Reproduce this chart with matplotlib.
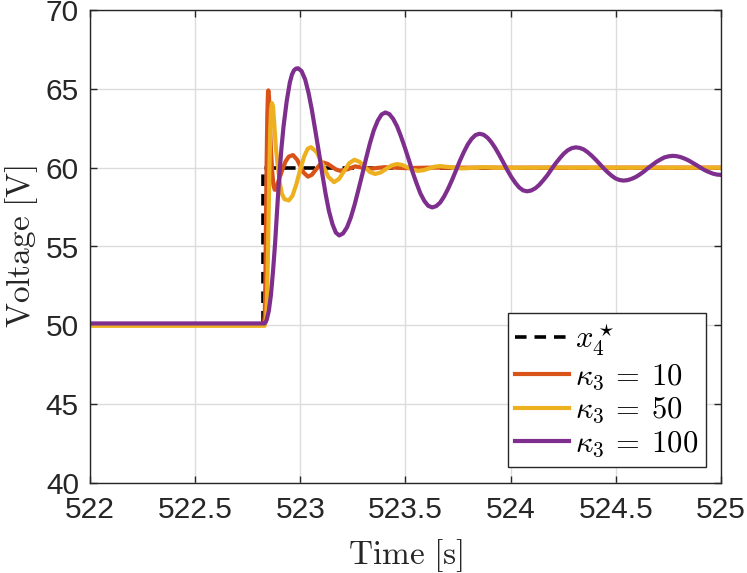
import matplotlib
matplotlib.use("Agg")
import matplotlib.pyplot as plt

# ---------------- data ----------------
t_ref = [522.0, 522.822, 522.822, 525.0]
v_ref = [50.0, 50.0, 60.0, 60.0]

t_k10 = [522.0, 522.826, 522.831, 522.834, 522.837, 522.840, 522.843, 522.846, 522.848,
         522.851, 522.855, 522.860, 522.866, 522.872, 522.878, 522.883, 522.890,
         522.900, 522.915, 522.930, 522.945, 522.965, 522.985, 523.000, 523.015,
         523.036, 523.055, 523.074, 523.092, 523.110, 523.130, 523.150, 523.170,
         523.190, 523.225, 523.260, 523.330, 523.400, 523.500, 523.600, 525.0]
v_k10 = [50.05, 50.05, 50.6, 53.0, 57.0, 60.5, 63.3, 64.7, 64.9,
         64.5, 63.0, 61.2, 59.8, 58.9, 58.6, 58.6, 58.9,
         59.3, 59.9, 60.4, 60.7, 60.8, 60.5, 60.1, 59.7,
         59.43, 59.55, 59.88, 60.18, 60.32, 60.24, 60.06, 59.88,
         59.8, 59.9, 60.08, 59.93, 60.03, 59.97, 60.0, 60.0]

t_k50 = [522.0, 522.830, 522.838, 522.843, 522.848, 522.853, 522.857, 522.861, 522.865,
         522.870, 522.876, 522.884, 522.894, 522.903, 522.912, 522.925, 522.945,
         522.962, 522.980, 523.000, 523.018, 523.035, 523.051,
         523.078, 523.1055, 523.133, 523.160,
         523.184, 523.2085, 523.233, 523.257,
         523.2815, 523.306, 523.3305, 523.355,
         523.381, 523.4075, 523.434, 523.460,
         523.485, 523.510, 523.535, 523.560,
         523.586, 523.612, 523.638, 523.664,
         523.770, 523.870, 523.970, 524.100, 525.0]
v_k50 = [49.97, 49.97, 50.5, 52.5, 56.0, 60.0, 62.5, 63.7, 64.1,
         63.9, 62.8, 61.2, 60.0, 59.0, 58.35, 58.0, 57.92,
         58.2, 58.9, 59.9, 60.7, 61.2, 61.3,
         60.98, 60.2, 59.42, 59.08,
         59.29, 59.79, 60.29, 60.5,
         60.37, 60.05, 59.73, 59.6,
         59.69, 59.915, 60.14, 60.23,
         60.17, 60.015, 59.86, 59.8,
         59.84, 59.95, 60.06, 60.1,
         59.95, 60.03, 59.98, 60.0, 60.0]

t_k100 = [522.0, 522.830, 522.835, 522.840, 522.850, 522.860, 522.870, 522.880, 522.890,
          522.900, 522.910, 522.920, 522.935, 522.950, 522.960, 522.970, 522.980,
          522.990, 523.006, 523.023, 523.039, 523.055, 523.071, 523.088, 523.104,
          523.120, 523.136, 523.153, 523.169, 523.185,
          523.203, 523.222, 523.240, 523.258, 523.276, 523.295, 523.313,
          523.331, 523.349, 523.368, 523.386, 523.404,
          523.423, 523.441, 523.460, 523.478, 523.497, 523.516, 523.534,
          523.553, 523.571, 523.590, 523.608, 523.627,
          523.646, 523.665, 523.683, 523.702, 523.721, 523.740, 523.758,
          523.777, 523.796, 523.815, 523.833, 523.852,
          523.871, 523.890, 523.908, 523.927, 523.946, 523.965, 523.984,
          524.003, 524.022, 524.040, 524.059, 524.078,
          524.097, 524.117, 524.136, 524.155, 524.175, 524.194, 524.213,
          524.233, 524.252, 524.271, 524.291, 524.310,
          524.329, 524.348, 524.366, 524.385, 524.404, 524.423, 524.442,
          524.461, 524.480, 524.498, 524.517, 524.536,
          524.556, 524.575, 524.595, 524.614, 524.634, 524.653, 524.673,
          524.692, 524.712, 524.731, 524.751, 524.770,
          524.789, 524.808, 524.828, 524.847, 524.866, 524.885, 524.904,
          524.923, 524.943, 524.962, 524.981, 525.000]
v_k100 = [50.12, 50.12, 50.2, 50.35, 50.9, 51.9, 53.4, 55.2, 57.4,
          59.5, 61.2, 62.6, 64.2, 65.4, 65.9, 66.18, 66.29,
          66.3, 66.12, 65.59, 64.75, 63.65, 62.37, 61.0, 59.63,
          58.35, 57.25, 56.41, 55.88, 55.7,
          55.83, 56.22, 56.84, 57.65, 58.59, 59.6, 60.61,
          61.55, 62.36, 62.98, 63.37, 63.5,
          63.40, 63.10, 62.62, 62.0, 61.27, 60.49, 59.71,
          58.99, 58.36, 57.88, 57.58, 57.48,
          57.56, 57.79, 58.16, 58.65, 59.21, 59.82, 60.42,
          60.98, 61.47, 61.84, 62.07, 62.15,
          62.09, 61.9, 61.62, 61.24, 60.80, 60.33, 59.85,
          59.41, 59.04, 58.75, 58.56, 58.5,
          58.55, 58.69, 58.91, 59.2, 59.53, 59.9, 60.26,
          60.59, 60.88, 61.1, 61.24, 61.29,
          61.25, 61.15, 60.98, 60.76, 60.51, 60.24, 59.96,
          59.71, 59.49, 59.32, 59.22, 59.18,
          59.21, 59.29, 59.41, 59.57, 59.76, 59.97, 60.17,
          60.36, 60.52, 60.65, 60.72, 60.75,
          60.73, 60.67, 60.57, 60.45, 60.30, 60.15, 59.99,
          59.84, 59.72, 59.62, 59.56, 59.54]

labels = [r'$x_4^\star$', r'$\kappa_3\,=\;10$', r'$\kappa_3\,=\;50$', r'$\kappa_3\,=\;100$']
x_ticks = [522, 522.5, 523, 523.5, 524, 524.5, 525]
x_ticklabels = ['522', '522.5', '523', '523.5', '524', '524.5', '525']
y_ticks = [40, 45, 50, 55, 60, 65, 70]

# ---------------- styling ----------------
plt.rcParams['mathtext.fontset'] = 'cm'
plt.rcParams['font.family'] = ['Liberation Sans', 'DejaVu Sans']
axcol = '#262626'

fig = plt.figure(figsize=(7.47, 5.73), dpi=100)
ax = fig.add_axes([90 / 747, 1 - 483 / 573, 631 / 747, 473 / 573])

ax.plot(t_ref, v_ref, color='black', lw=2.6, ls=(0, (3.2, 2.2)), label=labels[0])
ax.plot(t_k10, v_k10, color='#D95319', lw=3.0, label=labels[1])
ax.plot(t_k50, v_k50, color='#EDB120', lw=3.0, label=labels[2])
ax.plot(t_k100, v_k100, color='#7E2F8E', lw=3.0, label=labels[3])

ax.set_xlim(522, 525)
ax.set_ylim(40, 70)
ax.set_xticks(x_ticks)
ax.set_xticklabels(x_ticklabels)
ax.set_yticks(y_ticks)

ax.grid(True, color='#dcdcdc', lw=1.0)
ax.set_axisbelow(True)
for s in ax.spines.values():
    s.set_color(axcol)
    s.set_linewidth(1.0)
ax.tick_params(axis='both', direction='in', length=5, width=1.0, colors=axcol,
               labelsize=21.5, top=True, right=True)
ax.tick_params(axis='x', pad=9)
ax.tick_params(axis='y', pad=8)

ax.set_xlabel(r'$\mathrm{Time\ [s]}$', fontsize=24, color=axcol, labelpad=10)
ax.set_ylabel(r'$\mathrm{Voltage\ [V]}$', fontsize=24, color=axcol, labelpad=4)

leg = ax.legend(loc='lower right', bbox_to_anchor=(0.976, 0.034), borderaxespad=0,
                fontsize=22, frameon=True, fancybox=False, framealpha=1,
                edgecolor=axcol, handlelength=1.75, handletextpad=0.2,
                labelspacing=0.12, borderpad=0.25)
leg.get_frame().set_linewidth(1.0)

fig.savefig('out.png', dpi=100)
